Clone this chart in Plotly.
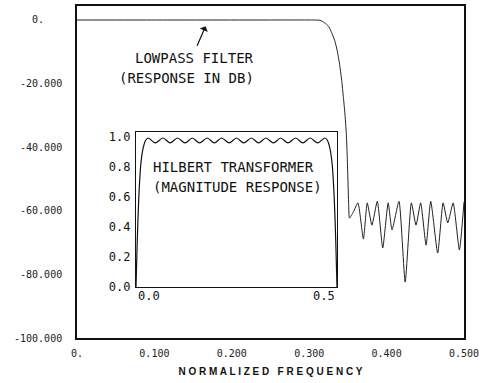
import plotly.graph_objects as go

# Lowpass filter response (dB) vs normalized frequency
lp_freq = [0.000, 0.050, 0.100, 0.150, 0.200, 0.250, 0.300, 0.314, 0.320, 0.325,
           0.329, 0.333, 0.336, 0.339, 0.342, 0.344, 0.346, 0.348, 0.349, 0.350,
           0.351, 0.352, 0.357, 0.363, 0.370, 0.375, 0.381, 0.388, 0.395, 0.402,
           0.407, 0.416, 0.424, 0.432, 0.438, 0.444, 0.451, 0.457, 0.466, 0.473,
           0.479, 0.486, 0.494, 0.500]
lp_db = [0.0, 0.0, 0.0, 0.0, 0.0, 0.0, 0.0, -0.1, -0.9, -2.0,
         -4.0, -6.5, -9.4, -13.5, -19.0, -24.0, -29.0, -36.0, -42.0, -50.0,
         -58.0, -62.3, -60.4, -57.5, -68.9, -57.5, -64.5, -57.0, -71.7, -57.5,
         -66.0, -57.0, -82.4, -57.5, -64.5, -57.5, -70.8, -57.0, -73.3, -57.5,
         -63.8, -57.5, -72.3, -57.2]

# Hilbert transformer magnitude response (inset)
hb_freq = [0.000, 0.003, 0.007, 0.012, 0.018, 0.024, 0.030, 0.048, 0.067, 0.085,
           0.103, 0.122, 0.140, 0.158, 0.177, 0.195, 0.213, 0.232, 0.250, 0.268,
           0.287, 0.305, 0.323, 0.342, 0.360, 0.378, 0.397, 0.415, 0.433, 0.452,
           0.470, 0.476, 0.482, 0.488, 0.493, 0.497, 0.500]
hb_mag = [0.00, 0.30, 0.60, 0.82, 0.93, 0.98, 0.995, 0.962, 0.995, 0.962,
          0.995, 0.962, 0.995, 0.962, 0.995, 0.962, 0.995, 0.962, 0.995, 0.962,
          0.995, 0.962, 0.995, 0.962, 0.995, 0.962, 0.995, 0.962, 0.995, 0.962,
          0.995, 0.98, 0.93, 0.82, 0.60, 0.30, 0.00]

# Tick labels
main_x_vals = [0.0, 0.1, 0.2, 0.3, 0.4, 0.5]
main_x_text = ["0.", "0.100", "0.200", "0.300", "0.400", "0.500"]
main_y_vals = [0, -20, -40, -60, -80, -100]
main_y_text = ["0.\u00a0\u00a0\u00a0", "-20.000", "-40.000", "-60.000", "-80.000", "-100.000"]
inset_y_vals = [0.0, 0.2, 0.4, 0.6, 0.8, 1.0]
inset_y_text = ["0.0", "0.2", "0.4", "0.6", "0.8", "1.0"]
inset_x_vals = [0.0, 0.5]
inset_x_text = ["0.0", "0.5"]

W, H = 481, 383
L, R, T, B = 77, 17, 6, 45
PW, PH = W - L - R, H - T - B


def px(x):
    return (x - L) / PW


def py(y):
    return (H - B - y) / PH


fig = go.Figure()
fig.add_trace(go.Scatter(x=lp_freq, y=lp_db, mode="lines",
                         line=dict(color="#222222", width=1, shape="spline", smoothing=0.5),
                         xaxis="x", yaxis="y", showlegend=False))
fig.add_trace(go.Scatter(x=hb_freq, y=hb_mag, mode="lines",
                         line=dict(color="#111111", width=1.2, shape="spline", smoothing=0.8),
                         xaxis="x2", yaxis="y2", showlegend=False))

mono = "DejaVu Sans Mono"
tf = dict(family=mono, size=14, color="#111")

annotations = [
    dict(text="LOWPASS FILTER", xref="paper", yref="paper", x=px(194), y=py(58),
         xanchor="center", yanchor="middle", showarrow=False, font=tf),
    dict(text="(RESPONSE IN DB)", xref="paper", yref="paper", x=px(186), y=py(78),
         xanchor="center", yanchor="middle", showarrow=False, font=tf),
    dict(text="", xref="x", yref="y", x=0.166, y=-2.0, ax=-9, ay=21,
         showarrow=True, arrowhead=1, arrowsize=1.2, arrowwidth=1.2, arrowcolor="#111"),
    dict(text="HILBERT TRANSFORMER", xref="paper", yref="paper", x=px(151), y=py(167),
         xanchor="left", yanchor="middle", showarrow=False, font=tf),
    dict(text="(MAGNITUDE RESPONSE)", xref="paper", yref="paper", x=px(151), y=py(187),
         xanchor="left", yanchor="middle", showarrow=False, font=tf),
    dict(text=inset_x_text[0], xref="x2", yref="paper", x=inset_x_vals[0], y=py(296),
         xanchor="left", yanchor="middle", showarrow=False,
         font=dict(family=mono, size=12, color="#111")),
    dict(text=inset_x_text[1], xref="x2", yref="paper", x=inset_x_vals[1], y=py(296),
         xanchor="right", yanchor="middle", showarrow=False,
         font=dict(family=mono, size=12, color="#111")),
]

fig.update_layout(
    width=W, height=H,
    margin=dict(l=L, r=R, t=T, b=B, autoexpand=False),
    paper_bgcolor="white", plot_bgcolor="white",
    xaxis=dict(range=[0, 0.5], domain=[0, 1], tickvals=main_x_vals, ticktext=main_x_text,
               ticks="outside", ticklen=5, tickcolor="rgba(0,0,0,0)",
               showgrid=False, zeroline=False, showline=True, mirror=True,
               linecolor="#111", linewidth=1.6,
               tickfont=dict(family=mono, size=10, color="#222"),
               title=dict(text="<b>N O R M A L I Z E D\u00a0\u00a0\u00a0F R E Q U E N C Y</b>",
                          font=dict(family="Liberation Sans", size=10, color="#111"),
                          standoff=10)),
    yaxis=dict(range=[-100, 4.4], domain=[0, 1], tickvals=main_y_vals, ticktext=main_y_text,
               ticks="outside", ticklen=11, tickcolor="rgba(0,0,0,0)",
               showgrid=False, zeroline=False, showline=True, mirror=True,
               linecolor="#111", linewidth=1.6,
               tickfont=dict(family=mono, size=10, color="#222")),
    xaxis2=dict(range=[0, 0.5], domain=[px(136), px(337)], anchor="y2",
                showticklabels=False, ticks="",
                showgrid=False, zeroline=False, showline=True, mirror=True,
                linecolor="#111", linewidth=1.4),
    yaxis2=dict(range=[0, 1.035], domain=[py(287), py(132)], anchor="x2",
                tickvals=inset_y_vals, ticktext=inset_y_text,
                ticks="outside", ticklen=2, tickcolor="rgba(0,0,0,0)",
                showgrid=False, zeroline=False, showline=True, mirror=True,
                linecolor="#111", linewidth=1.4,
                tickfont=dict(family=mono, size=12, color="#111")),
    annotations=annotations,
)

fig.write_html("out.html")
